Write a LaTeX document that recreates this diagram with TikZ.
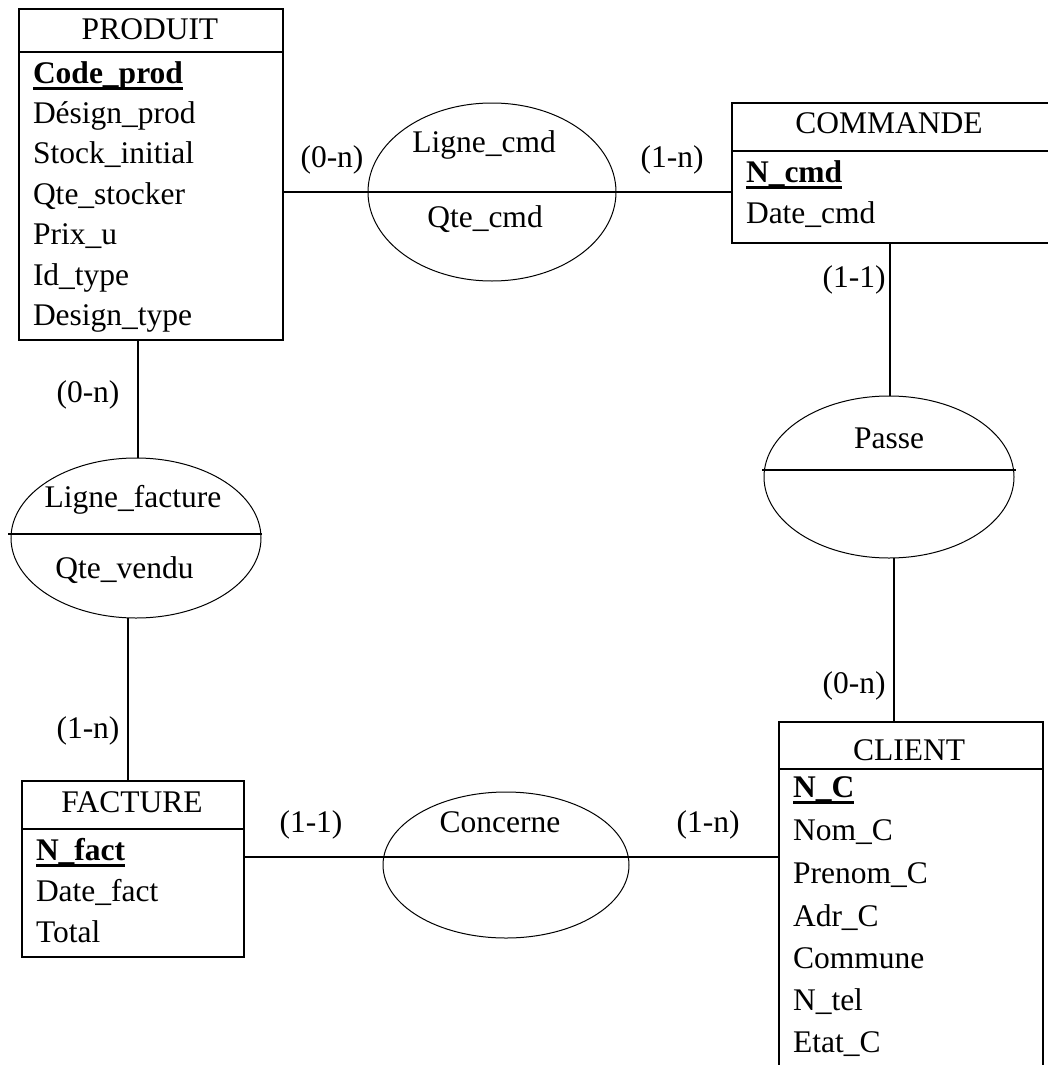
\documentclass[tikz,border=0pt]{standalone}
\usepackage{fontspec}
\setmainfont{Liberation Serif}
\usetikzlibrary{shapes.geometric,calc}
\begin{document}
\begin{tikzpicture}[x=1pt,y=-1pt,
  every node/.style={font=\fontsize{31.5}{38}\selectfont, inner sep=0pt, outer sep=0pt},
  ebox/.style={draw, rectangle, line width=2pt},
  eline/.style={line width=2pt},
  rel/.style={draw, ellipse, line width=1pt},
  link/.style={line width=2pt},
  attr/.style={anchor=base west},
  keyattr/.style={anchor=base west, font=\fontsize{31.5}{38}\selectfont\bfseries},
  lab/.style={anchor=base},
  uline/.style={line width=3pt}
]
\useasboundingbox (0,0) rectangle (1048,1065);
\clip (0,0) rectangle (1048,1065);

% ---------- PRODUIT ----------
\node[ebox, minimum width=264pt, minimum height=331pt] (produit) at (151,174.5) {};
\draw[eline] ([yshift=-43pt]produit.north west) -- ([yshift=-43pt]produit.north east);
\node[lab] (produitT) at (150,40) {PRODUIT};
\node[keyattr] (p1) at (33,83) {Code\_prod};
\draw[uline] ([yshift=-5pt]p1.base west) -- ([yshift=-5pt]p1.base east);
\node[attr] (p2) at (33,123.4) {Désign\_prod};
\node[attr] (p3) at (33,163.8) {Stock\_initial};
\node[attr] (p4) at (33,204.2) {Qte\_stocker};
\node[attr] (p5) at (33,244.6) {Prix\_u};
\node[attr] (p6) at (33,285) {Id\_type};
\node[attr] (p7) at (33,325.4) {Design\_type};

% ---------- COMMANDE ----------
\node[ebox, minimum width=324pt, minimum height=140pt] (commande) at (894,173) {};
\draw[eline] ([yshift=-48pt]commande.north west) -- ([yshift=-48pt]commande.north east);
\node[lab] (commandeT) at (889,133) {COMMANDE};
\node[keyattr] (c1) at (746,182) {N\_cmd};
\draw[uline] ([yshift=-5pt]c1.base west) -- ([yshift=-5pt]c1.base east);
\node[attr] (c2) at (746,223) {Date\_cmd};

% ---------- CLIENT ----------
\node[ebox, minimum width=264pt, minimum height=353pt] (client) at (911,898.5) {};
\draw[eline] ([yshift=-47pt]client.north west) -- ([yshift=-47pt]client.north east);
\node[lab] (clientT) at (909,760) {CLIENT};
\node[keyattr] (k1) at (793,797) {N\_C};
\draw[uline] ([yshift=-5pt]k1.base west) -- ([yshift=-5pt]k1.base east);
\node[attr] (k2) at (793,840) {Nom\_C};
\node[attr] (k3) at (793,883) {Prenom\_C};
\node[attr] (k4) at (793,926) {Adr\_C};
\node[attr] (k5) at (793,968) {Commune};
\node[attr] (k6) at (793,1010) {N\_tel};
\node[attr] (k7) at (793,1052) {Etat\_C};

% ---------- FACTURE ----------
\node[ebox, minimum width=222pt, minimum height=176pt] (facture) at (133,869) {};
\draw[eline] ([yshift=-48pt]facture.north west) -- ([yshift=-48pt]facture.north east);
\node[lab] (factureT) at (132,812) {FACTURE};
\node[keyattr] (f1) at (36,860) {N\_fact};
\draw[uline] ([yshift=-5pt]f1.base west) -- ([yshift=-5pt]f1.base east);
\node[attr] (f2) at (36,901) {Date\_fact};
\node[attr] (f3) at (36,942) {Total};

% ---------- Relations ----------
\node[rel, minimum width=248pt, minimum height=178pt] (lc) at (492,192) {};
\node[lab] (lcT) at (484,152) {Ligne\_cmd};
\node[lab] (lcA) at (485,227) {Qte\_cmd};

\node[rel, minimum width=250pt, minimum height=162pt] (passe) at (889,477) {};
\draw[link] ([xshift=-2pt,yshift=7pt]passe.west) -- ([xshift=2pt,yshift=7pt]passe.east);
\node[lab] (passeT) at (889,448) {Passe};

\node[rel, minimum width=250pt, minimum height=160pt] (lf) at (136,538) {};
\draw[link] ([xshift=-3pt,yshift=4pt]lf.west) -- ([xshift=1pt,yshift=4pt]lf.east);
\node[lab] (lfT) at (133,507) {Ligne\_facture};
\node[lab] (lfA) at (124.5,578) {Qte\_vendu};

\node[rel, minimum width=246pt, minimum height=146pt] (conc) at (506,865) {};
\node[lab] (concT) at (500,832) {Concerne};

% ---------- Connectors ----------
\draw[link] (produit.east |- lc.center) -- (commande.west |- lc.center);
\draw[link] ([xshift=2pt]lf.north |- produit.south) -- ([xshift=2pt]lf.north);
\draw[link] ([xshift=-8pt]lf.south) -- ([xshift=-8pt]lf.south |- facture.north);
\draw[link] ([yshift=12pt]facture.east) -- ([yshift=12pt]facture.east -| client.west);
\draw[link] ([xshift=1pt]passe.north |- commande.south) -- ([xshift=1pt]passe.north);
\draw[link] ([xshift=5pt]passe.south) -- ([xshift=5pt]passe.south |- client.north);

% ---------- Cardinalities ----------
\node[lab] (m1) at (332,167) {(0-n)};
\node[lab] (m2) at (672,167) {(1-n)};
\node[lab] (m3) at (854,287) {(1-1)};
\node[lab] (m4) at (854,693) {(0-n)};
\node[lab] (m5) at (88,402) {(0-n)};
\node[lab] (m6) at (88,738) {(1-n)};
\node[lab] (m7) at (311,832) {(1-1)};
\node[lab] (m8) at (708,832) {(1-n)};
\end{tikzpicture}
\end{document}
